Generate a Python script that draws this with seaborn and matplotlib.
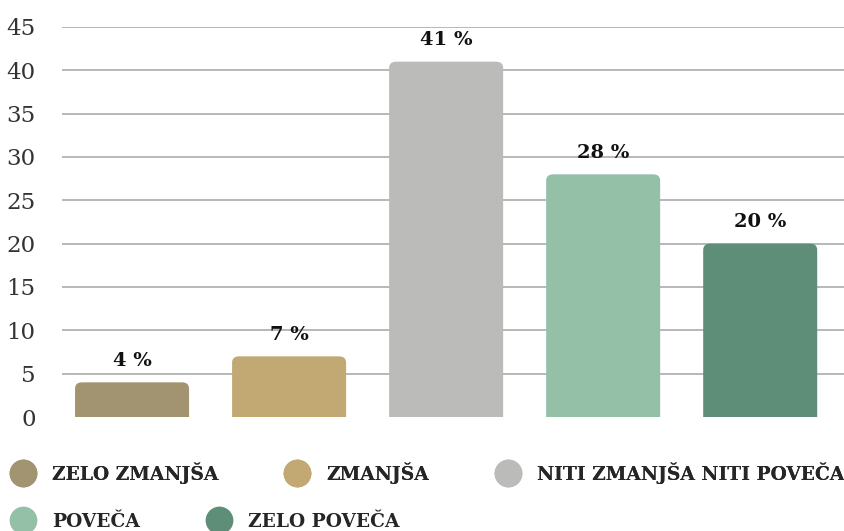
import numpy as np
import pandas as pd
import matplotlib.pyplot as plt
import seaborn as sb
from matplotlib.patches import FancyBboxPatch
from matplotlib.lines import Line2D

# data
categories = ['ZELO ZMANJŠA', 'ZMANJŠA', 'NITI ZMANJŠA NITI POVEČA', 'POVEČA', 'ZELO POVEČA']
values = [4, 7, 41, 28, 20]
colors = ['#a39471', '#c2a873', '#bbbbba', '#94c0a8', '#5e8e77']
yticks = [0, 5, 10, 15, 20, 25, 30, 35, 40, 45]

df = pd.DataFrame({'category': categories, 'value': values})

sb.set_style('white')
plt.rcParams['font.family'] = ['DejaVu Serif', 'DejaVu Sans']

fig = plt.figure(figsize=(8.45, 5.31), dpi=100)
ax = fig.add_axes([62 / 845, 1 - 417 / 531, 1 - 62 / 845, 390 / 531])

sb.barplot(data=df, x='category', y='value', hue='category', palette=colors,
           order=categories, hue_order=categories, width=0.726, legend=False,
           saturation=1, ax=ax, zorder=3)

# swap plain bars for ones with rounded tops
for bar in list(ax.patches):
    x0, w, h = bar.get_x(), bar.get_width(), bar.get_height()
    col = bar.get_facecolor()
    bar.remove()
    rounded = FancyBboxPatch((x0, -2), w, h + 2,
                             boxstyle='round,pad=0,rounding_size=0.045',
                             mutation_aspect=16, facecolor=col, edgecolor='none',
                             zorder=3)
    ax.add_patch(rounded)

for i, v in enumerate(values):
    ax.annotate(f'{v} %', (i, v), xytext=(0, 9), textcoords='offset points',
                ha='center', va='bottom', fontsize=14, fontweight='bold',
                color='#111111')

ax.set_xlim(-0.446, 4.54)
ax.set_ylim(0, 45)
ax.set_yticks(yticks)
ax.yaxis.grid(True, color='#b8b8b8', linewidth=1.4, zorder=0)
ax.set_axisbelow(True)
for s in ax.spines.values():
    s.set_visible(False)
ax.set_xticks([])
ax.set_xlabel('')
ax.set_ylabel('')
ax.tick_params(axis='y', length=0, pad=19, labelsize=16.5, labelcolor='#333333')
ax.yaxis.get_gridlines()[0].set_visible(False)

# legend in two flowing rows
handles = [Line2D([], [], marker='o', linestyle='none', markersize=20,
                  markerfacecolor=c, markeredgecolor='none') for c in colors]
leg_font = {'size': 13.4, 'weight': 'bold'}
leg_kw = dict(loc='center left', frameon=False, prop=leg_font,
              handletextpad=0.8, columnspacing=3.5, handlelength=1.5,
              borderaxespad=0, borderpad=0)
leg1 = fig.legend(handles[:3], categories[:3], ncol=3,
                  bbox_to_anchor=(9 / 845, 1 - 473 / 531), **leg_kw)
fig.add_artist(leg1)
fig.legend(handles[3:], categories[3:], ncol=2,
           bbox_to_anchor=(9 / 845, 1 - 522 / 531), **leg_kw)

plt.savefig('out.png', dpi=100)
